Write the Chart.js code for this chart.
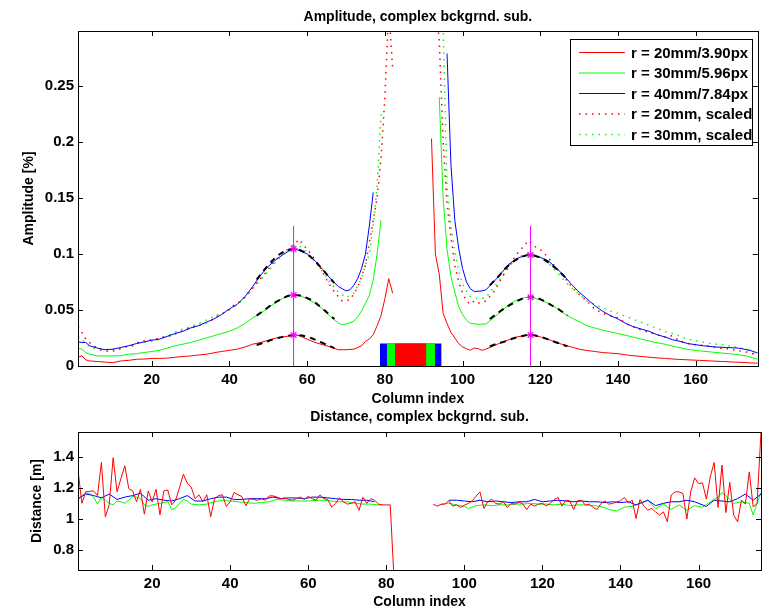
<!DOCTYPE html>
<html>
<head>
<meta charset="utf-8">
<script src="https://cdn.jsdelivr.net/npm/chart.js"></script>
<style>
    body { margin: 0; background: #fff; }
    .wrap { position: relative; width: 763px; height: 609px; }
    .wrap canvas { position: absolute; left: 0; top: 0; }
</style>
</head>
<body>
<div class="wrap">
    <canvas id="amp" width="763" height="609"></canvas>
    <canvas id="dist" width="763" height="609"></canvas>
</div>
<script>
const FONT = '"Liberation Sans", Arial, Helvetica, sans-serif';

// ---- axis ticks
const xTicks = [20, 40, 60, 80, 100, 120, 140, 160];
const ampTicks = [0, 0.05, 0.1, 0.15, 0.2, 0.25];
const distTicks = [0.8, 1, 1.2, 1.4];

// ---- amplitude, [column, value]; null = gap in the middle
const ampRed = [[1,0.008],[2,0.009],[3,0.0055],[4,0.0045],[6,0.004],[8,0.0035],[10,0.003],[12,0.0045],[14,0.005],[16,0.006],[18,0.0062],[20,0.0068],[22,0.0068],[24,0.007],[26,0.0078],[28,0.0085],[30,0.009],[32,0.0098],[34,0.0105],[36,0.0118],[38,0.013],[40,0.014],[42,0.015],[44,0.017],[46,0.0195],[48,0.021],[50,0.023],[52,0.025],[54,0.026],[56,0.0272],[57,0.0278],[58,0.027],[60,0.024],[62,0.021],[64,0.019],[66,0.017],[68,0.0145],[70,0.0145],[72,0.015],[74,0.018],[75,0.022],[76,0.024],[77,0.028],[78,0.036],[79,0.045],[80,0.06],[81,0.078],[82,0.065],[87,null],
    [92,0.203],[93,0.1],[94,0.082],[95,0.047],[96,0.038],[97,0.03],[98,0.025],[99,0.02],[100,0.017],[101,0.0155],[102,0.014],[103,0.016],[104,0.0155],[105,0.014],[106,0.015],[108,0.018],[110,0.021],[112,0.0235],[114,0.026],[116,0.027],[117,0.0278],[118,0.0275],[120,0.026],[122,0.024],[124,0.021],[126,0.019],[128,0.017],[130,0.015],[132,0.0138],[134,0.013],[136,0.012],[138,0.0115],[140,0.011],[143,0.0095],[146,0.0085],[149,0.0075],[152,0.0068],[155,0.006],[158,0.0055],[161,0.005],[164,0.0045],[167,0.004],[170,0.0035],[173,0.003],[176,0.0025]];
const ampGreen = [[1,0.016],[2,0.015],[3,0.012],[4,0.0105],[6,0.009],[8,0.009],[10,0.009],[12,0.0092],[14,0.0105],[16,0.011],[18,0.012],[20,0.013],[22,0.014],[24,0.016],[26,0.018],[28,0.0195],[30,0.021],[32,0.023],[34,0.025],[36,0.027],[38,0.029],[40,0.031],[42,0.034],[44,0.038],[46,0.043],[48,0.047],[50,0.052],[52,0.057],[54,0.061],[56,0.0633],[57,0.0635],[58,0.063],[60,0.06],[62,0.056],[64,0.051],[66,0.044],[68,0.0385],[69,0.037],[70,0.0375],[72,0.04],[73,0.044],[74,0.049],[75,0.056],[76,0.063],[77,0.077],[78,0.1],[79,0.13],[87,null],
    [94,0.24],[95,0.15],[96,0.104],[97,0.08],[98,0.066],[99,0.053],[100,0.046],[101,0.041],[102,0.038],[104,0.0372],[106,0.0375],[108,0.043],[110,0.049],[112,0.055],[114,0.059],[116,0.061],[117,0.0613],[118,0.061],[120,0.059],[122,0.056],[124,0.052],[126,0.047],[128,0.043],[130,0.0395],[132,0.036],[134,0.034],[136,0.032],[138,0.0305],[140,0.029],[143,0.0265],[146,0.024],[149,0.0215],[152,0.0195],[155,0.017],[158,0.0148],[161,0.0135],[164,0.0125],[167,0.0115],[170,0.0105],[173,0.009],[176,0.006]];
const ampBlue = [[1,0.0215],[2,0.021],[3,0.021],[4,0.018],[6,0.016],[8,0.0145],[10,0.015],[12,0.0165],[14,0.018],[16,0.02],[18,0.0215],[20,0.023],[22,0.024],[24,0.0265],[26,0.029],[28,0.031],[30,0.034],[32,0.036],[34,0.039],[36,0.042],[38,0.046],[40,0.051],[42,0.055],[44,0.062],[46,0.071],[48,0.081],[50,0.089],[52,0.095],[54,0.1],[56,0.104],[57,0.1045],[58,0.103],[60,0.1],[62,0.094],[64,0.086],[66,0.078],[68,0.071],[70,0.067],[71,0.068],[72,0.072],[73,0.078],[74,0.087],[75,0.1],[76,0.125],[77,0.155],[87,null],
    [96,0.279],[97,0.18],[98,0.13],[99,0.105],[100,0.087],[101,0.075],[102,0.069],[103,0.0665],[105,0.067],[106,0.068],[108,0.075],[110,0.083],[112,0.091],[114,0.096],[116,0.0985],[117,0.099],[118,0.099],[120,0.097],[122,0.094],[124,0.088],[126,0.081],[128,0.073],[130,0.066],[132,0.06],[134,0.054],[136,0.049],[138,0.045],[140,0.042],[142,0.038],[144,0.035],[146,0.033],[148,0.031],[150,0.028],[152,0.026],[154,0.0235],[156,0.022],[158,0.02],[160,0.019],[162,0.018],[165,0.017],[168,0.0165],[171,0.016],[174,0.014],[176,0.0115]];
const ampRedScaled = [[1,0.035],[2,0.03],[3,0.024],[5,0.018],[7,0.014],[9,0.013],[11,0.014],[13,0.017],[15,0.018],[17,0.022],[19,0.023],[21,0.024],[23,0.026],[25,0.027],[27,0.03],[29,0.033],[31,0.035],[33,0.037],[35,0.04],[37,0.045],[39,0.048],[41,0.054],[43,0.058],[45,0.066],[47,0.074],[49,0.082],[51,0.091],[53,0.099],[55,0.104],[57,0.11],[58,0.113],[59,0.108],[61,0.1],[63,0.09],[65,0.077],[67,0.066],[69,0.058],[71,0.059],[73,0.07],[75,0.09],[76,0.11],[77,0.13],[78,0.15],[79,0.185],[80,0.24],[81,0.32],[82,0.265],[87,null],
    [92,0.75],[93,0.33],[94,0.29],[95,0.2],[96,0.145],[97,0.115],[98,0.09],[99,0.075],[100,0.065],[101,0.058],[102,0.055],[103,0.058],[104,0.056],[105,0.057],[106,0.058],[108,0.066],[110,0.078],[112,0.09],[114,0.1],[116,0.108],[117,0.112],[118,0.108],[120,0.104],[122,0.097],[124,0.088],[126,0.08],[128,0.071],[130,0.064],[132,0.058],[134,0.051],[136,0.047],[138,0.045],[140,0.043],[142,0.038],[144,0.035],[146,0.032],[148,0.03],[150,0.028],[152,0.026],[154,0.027],[156,0.022],[158,0.02],[160,0.019],[163,0.018],[166,0.016],[169,0.015],[172,0.013],[174,0.012],[176,0.009]];
const ampGreenScaled = [[1,0.026],[2,0.024],[3,0.02],[4,0.017],[6,0.015],[8,0.015],[10,0.015],[12,0.016],[14,0.018],[16,0.02],[18,0.021],[20,0.022],[22,0.024],[24,0.027],[26,0.03],[28,0.033],[30,0.035],[32,0.038],[34,0.041],[36,0.044],[38,0.047],[40,0.05],[42,0.055],[44,0.061],[46,0.069],[48,0.077],[50,0.085],[52,0.093],[54,0.1],[56,0.105],[57,0.108],[58,0.107],[60,0.101],[62,0.093],[64,0.084],[66,0.074],[68,0.066],[70,0.061],[72,0.065],[74,0.078],[75,0.09],[76,0.1],[77,0.125],[78,0.16],[79,0.225],[87,null],
    [94,0.39],[95,0.3],[96,0.16],[97,0.125],[98,0.102],[99,0.085],[100,0.073],[101,0.067],[102,0.062],[104,0.06],[106,0.061],[108,0.07],[110,0.079],[112,0.089],[114,0.096],[116,0.1],[117,0.101],[118,0.1],[120,0.097],[122,0.092],[124,0.085],[126,0.077],[128,0.07],[130,0.064],[132,0.058],[134,0.055],[136,0.052],[138,0.049],[140,0.047],[143,0.043],[146,0.039],[149,0.035],[152,0.031],[155,0.028],[158,0.024],[161,0.022],[164,0.02],[167,0.019],[170,0.017],[173,0.015],[176,0.0095]];

// ---- peak fits (black dashed)
const fitBlueL = [[47,0.077],[49,0.086],[51,0.094],[53,0.1],[55,0.1035],[57,0.1045],[59,0.102],[61,0.097],[63,0.09],[65,0.082],[67,0.074]];
const fitGreenL = [[47,0.045],[49,0.05],[51,0.055],[53,0.059],[55,0.0625],[57,0.0634],[59,0.062],[61,0.059],[63,0.054],[65,0.048],[67,0.042]];
const fitRedL = [[47,0.0188],[49,0.021],[51,0.0235],[53,0.0255],[55,0.027],[57,0.0277],[59,0.027],[61,0.025],[63,0.022],[65,0.019],[67,0.016]];
const fitBlueR = [[107,0.072],[109,0.079],[111,0.087],[113,0.093],[115,0.097],[117,0.099],[119,0.098],[121,0.095],[123,0.09],[125,0.084],[127,0.077]];
const fitGreenR = [[107,0.042],[109,0.047],[111,0.052],[113,0.056],[115,0.0595],[117,0.0613],[119,0.061],[121,0.058],[123,0.054],[125,0.05],[127,0.045]];
const fitRedR = [[107,0.0175],[109,0.02],[111,0.022],[113,0.0245],[115,0.0265],[117,0.0277],[119,0.027],[121,0.025],[123,0.0225],[125,0.02],[127,0.0175]];

// ---- peak markers
const peakCols = [56.5, 117.5];
const peakRed = [0.0277, 0.0277];
const peakGreen = [0.0634, 0.0613];
const peakBlue = [0.1045, 0.099];
const markerTop = 0.125;

// ---- aperture bar (column from / to)
const barBlue = [78.7, 94.6];
const barGreen = [80.5, 92.9];
const barRed = [82.6, 90.7];
const barHeight = 0.02;

// ---- distance
const distRedLeft = [1.314,1.10,1.174,1.178,1.18,1.15,1.364,1.013,1.09,1.394, 1.174,1.26,1.342,1.196,1.18,1.11,1.19,1.03,1.18,1.11,
    1.19,1.026,1.18,1.186,1.09,1.12,1.2,1.288,1.23,1.205, 1.13,1.155,1.11,1.155,1.013,1.13,1.15,1.155,1.08,1.11,
    1.17,1.155,1.144,1.084,1.13,1.125,1.12,1.13,1.12,1.148, 1.148,1.14,1.13,1.135,1.125,1.12,1.13,1.14,1.125,1.145,
    1.13,1.12,1.155,1.13,1.125,1.075,1.1,1.135,1.11,1.095, 1.1,1.11,1.055,1.14,1.1,1.13,1.12,1.095,1.09,1.09, 1.09,0.6];
const distRedRight = [1.095,1.082,1.093,1.095,1.116,1.082,1.09,1.073,1.088,1.099, 1.116,1.146,1.174,1.067,1.11,1.127,1.099,1.095,1.11,1.073,
    1.099,1.095,1.108,1.095,1.06,1.095,1.082,1.095,1.099,1.084, 1.099,1.125,1.138,1.082,1.12,1.116,1.06,1.116,1.12,1.088,
    1.095,1.073,1.06,1.099,1.116,1.095,1.099,1.11,1.116,1.138, 1.103,1.12,1.002,1.125,1.082,1.056,1.067,1.045,1.024,1.045,
    0.981,1.153,1.174,1.174,1.163,0.998,1.174,1.264,1.228,1.232, 1.127,1.271,1.364,1.073,1.347,1.04,1.235,1.024,0.981,1.12,
    1.095,1.303,1.077,1.099,1.56];
const distBlue = [[1,1.13],[3,1.16],[5,1.15],[7,1.135],[9,1.16],[11,1.125],[13,1.14],[15,1.15],[17,1.165],[19,1.12],[21,1.13],[23,1.12],[25,1.115],[27,1.13],[29,1.15],[31,1.115],[33,1.115],[35,1.13],[37,1.14],[39,1.14],[41,1.125],[43,1.125],[45,1.13],[47,1.13],[49,1.13],[51,1.14],[53,1.13],[55,1.135],[57,1.135],[59,1.13],[61,1.14],[63,1.14],[65,1.135],[67,1.13],[69,1.125],[71,1.125],[73,1.12],[75,1.12],[77,1.11],[87,null],
    [96,1.12],[98,1.12],[100,1.115],[102,1.11],[104,1.12],[106,1.11],[108,1.115],[110,1.11],[112,1.105],[114,1.11],[116,1.11],[118,1.125],[120,1.11],[122,1.115],[124,1.12],[126,1.115],[128,1.11],[130,1.115],[132,1.11],[134,1.11],[136,1.105],[138,1.11],[140,1.105],[142,1.11],[144,1.09],[146,1.11],[147,1.12],[149,1.085],[151,1.1],[153,1.11],[155,1.11],[157,1.12],[159,1.11],[161,1.09],[162,1.08],[164,1.12],[166,1.115],[168,1.11],[170,1.13],[172,1.16],[174,1.12],[175,1.14],[176,1.16]];
const distGreen = [[1,1.12],[2,1.15],[3,1.165],[4,1.165],[5,1.14],[6,1.095],[7,1.14],[8,1.12],[9,1.1],[10,1.09],[11,1.115],[12,1.11],[13,1.1],[14,1.12],[15,1.145],[16,1.14],[17,1.13],[18,1.09],[19,1.08],[20,1.09],[21,1.095],[22,1.1],[23,1.105],[24,1.11],[25,1.06],[26,1.07],[27,1.1],[28,1.125],[29,1.115],[30,1.095],[32,1.09],[34,1.095],[36,1.11],[38,1.12],[40,1.115],[42,1.11],[44,1.105],[46,1.1],[48,1.105],[50,1.11],[52,1.125],[54,1.12],[56,1.115],[58,1.115],[60,1.115],[62,1.12],[64,1.12],[66,1.115],[68,1.11],[70,1.11],[72,1.1],[74,1.095],[76,1.095],[78,1.09],[79,1.09],[87,null],
    [94,1.095],[96,1.1],[98,1.09],[100,1.08],[101,1.066],[103,1.085],[105,1.09],[107,1.085],[109,1.09],[111,1.09],[113,1.095],[115,1.095],[117,1.1],[119,1.095],[121,1.095],[123,1.09],[125,1.095],[127,1.085],[129,1.09],[131,1.09],[133,1.085],[135,1.08],[137,1.06],[139,1.05],[141,1.075],[143,1.08],[145,1.1],[147,1.12],[149,1.065],[151,1.095],[153,1.06],[155,1.09],[157,1.055],[159,1.085],[161,1.075],[163,1.11],[165,1.14],[166,1.17],[167,1.15],[169,1.1],[171,1.11],[173,1.1],[174,1.025],[175,1.1],[176,1.17]];

const legendItems = [
    { label: "r = 20mm/3.90px", color: "#ff0000", dash: [] },
    { label: "r = 30mm/5.96px", color: "#00ff00", dash: [] },
    { label: "r = 40mm/7.84px", color: "#0000ff", dash: [] },
    { label: "r = 20mm, scaled", color: "#ff0000", dash: [1.5, 5] },
    { label: "r = 30mm, scaled", color: "#00ff00", dash: [1.5, 5] }
];

const pts = arr => arr.map(p => ({ x: p[0], y: p[1] }));
const runPts = (start, vals) => vals.map((v, i) => ({ x: start + i, y: v }));

function line(data, color, extra) {
    return Object.assign({
        data: data, borderColor: color, borderWidth: 1, pointRadius: 0,
        fill: false, tension: 0, spanGaps: false, clip: 0
    }, extra || {});
}
function bar(edges, color, order) {
    return {
        data: [{ x: edges[0], y: barHeight }, { x: edges[1], y: barHeight }],
        borderWidth: 0, backgroundColor: color, fill: "origin", pointRadius: 0, order: order
    };
}

// inward ticks, box, titles
function frame(opts) {
    return {
        id: "frame",
        afterDraw(chart) {
            const ctx = chart.ctx, a = chart.chartArea;
            const xs = chart.scales.x, ys = chart.scales.y;
            ctx.save();
            ctx.strokeStyle = "#000";
            ctx.lineWidth = 1;
            ctx.beginPath();
            xTicks.forEach(v => {
                const px = Math.round(xs.getPixelForValue(v)) + 0.5;
                ctx.moveTo(px, a.bottom); ctx.lineTo(px, a.bottom - 5);
                ctx.moveTo(px, a.top); ctx.lineTo(px, a.top + 5);
            });
            opts.yTicks.forEach(v => {
                const py = Math.round(ys.getPixelForValue(v)) + 0.5;
                ctx.moveTo(a.left, py); ctx.lineTo(a.left + 5, py);
                ctx.moveTo(a.right, py); ctx.lineTo(a.right - 5, py);
            });
            ctx.stroke();
            ctx.strokeRect(Math.round(a.left) + 0.5, Math.round(a.top) + 0.5,
                Math.round(a.right - a.left), Math.round(a.bottom - a.top));

            ctx.fillStyle = "#000";
            ctx.font = "bold 14px " + FONT;
            ctx.textAlign = "center";
            ctx.textBaseline = "alphabetic";
            const cx = (a.left + a.right) / 2;
            ctx.fillText(opts.title, cx, opts.titleY);
            ctx.fillText("Column index", cx, opts.xLabelY);
            ctx.translate(opts.yLabelX, (a.top + a.bottom) / 2);
            ctx.rotate(-Math.PI / 2);
            ctx.fillText(opts.yLabel, 0, 0);
            ctx.restore();

            if (opts.legend) drawLegend(ctx);
        }
    };
}

function drawLegend(ctx) {
    ctx.save();
    ctx.fillStyle = "#fff";
    ctx.fillRect(570, 39, 183, 107);
    ctx.strokeStyle = "#000";
    ctx.lineWidth = 1;
    ctx.strokeRect(570.5, 39.5, 182, 106);
    ctx.font = "bold 15px " + FONT;
    ctx.textAlign = "left";
    ctx.textBaseline = "middle";
    legendItems.forEach((it, i) => {
        const y = 52.5 + i * 20.5;
        ctx.strokeStyle = it.color;
        ctx.setLineDash(it.dash);
        ctx.lineWidth = it.dash.length ? 1.5 : 1;
        ctx.beginPath();
        ctx.moveTo(579, y); ctx.lineTo(625, y);
        ctx.stroke();
        ctx.fillStyle = "#000";
        ctx.fillText(it.label, 631, y + 1);
    });
    ctx.restore();
}

function scalesFor(yMin, yMax, yTicks, bottomH) {
    const tickFont = { family: FONT, size: 15, weight: "bold" };
    const fmt = v => String(Math.round(v * 1000) / 1000);
    return {
        x: {
            type: "linear", min: 1, max: 176,
            grid: { display: false, drawTicks: false }, border: { display: false },
            ticks: { font: tickFont, color: "#000", padding: 5, maxRotation: 0, autoSkip: false, callback: fmt },
            afterBuildTicks: s => { s.ticks = xTicks.map(v => ({ value: v })); },
            afterFit: s => { s.height = bottomH; }
        },
        y: {
            type: "linear", min: yMin, max: yMax,
            grid: { display: false, drawTicks: false }, border: { display: false },
            ticks: { font: tickFont, color: "#000", padding: 4, autoSkip: false, callback: fmt },
            afterBuildTicks: s => { s.ticks = yTicks.map(v => ({ value: v })); },
            afterFit: s => { s.width = 78; }
        }
    };
}

const dotted = { borderDash: [1.5, 5], borderWidth: 1.5 };
const dashed = { borderDash: [6, 5], borderWidth: 2, tension: 0.3 };

new Chart(document.getElementById("amp"), {
    type: "line",
    data: {
        datasets: [
            line(peakCols.map((c, i) => ({ x: c, y: peakBlue[i] })).concat(
                peakCols.map((c, i) => ({ x: c, y: peakGreen[i] })),
                peakCols.map((c, i) => ({ x: c, y: peakRed[i] }))),
                "#ff00ff", { showLine: false, pointStyle: "star", pointRadius: 4, pointBorderWidth: 1.2, pointBorderColor: "#ff00ff", order: 0 }),
            line([{ x: peakCols[0], y: 0 }, { x: peakCols[0], y: markerTop }], "#ff00ff", { order: 1 }),
            line([{ x: peakCols[1], y: 0 }, { x: peakCols[1], y: markerTop }], "#ff00ff", { order: 1 }),
            line(pts(fitBlueL), "#000", Object.assign({ order: 2 }, dashed)),
            line(pts(fitGreenL), "#000", Object.assign({ order: 2 }, dashed)),
            line(pts(fitRedL), "#000", Object.assign({ order: 2 }, dashed)),
            line(pts(fitBlueR), "#000", Object.assign({ order: 2 }, dashed)),
            line(pts(fitGreenR), "#000", Object.assign({ order: 2 }, dashed)),
            line(pts(fitRedR), "#000", Object.assign({ order: 2 }, dashed)),
            bar(barRed, "#ff0000", 3),
            bar(barGreen, "#00ff00", 4),
            bar(barBlue, "#0000ff", 5),
            line(pts(ampRed), "#ff0000", { order: 6 }),
            line(pts(ampGreen), "#00ff00", { order: 6 }),
            line(pts(ampBlue), "#0000ff", { order: 6 }),
            line(pts(ampRedScaled), "#ff0000", Object.assign({ order: 7 }, dotted)),
            line(pts(ampGreenScaled), "#00ff00", Object.assign({ order: 7 }, dotted))
        ]
    },
    options: {
        responsive: false, animation: false, devicePixelRatio: 1,
        layout: { padding: { top: 31, right: 2, left: 0, bottom: 0 } },
        plugins: { legend: { display: false }, tooltip: { enabled: false } },
        scales: scalesFor(0, 0.299, ampTicks, 243)
    },
    plugins: [frame({ title: "Amplitude, complex bckgrnd. sub.", titleY: 21, xLabelY: 403,
        yLabel: "Amplitude [%]", yLabelX: 33, yTicks: ampTicks, legend: true })]
});

new Chart(document.getElementById("dist"), {
    type: "line",
    data: {
        datasets: [
            line(runPts(1, distRedLeft).concat([{ x: 87, y: null }], runPts(92, distRedRight)), "#ff0000", { order: 1 }),
            line(pts(distBlue), "#0000ff", { order: 2 }),
            line(pts(distGreen), "#00ff00", { order: 3 })
        ]
    },
    options: {
        responsive: false, animation: false, devicePixelRatio: 1,
        layout: { padding: { top: 432, right: 2, left: 0, bottom: 0 } },
        plugins: { legend: { display: false }, tooltip: { enabled: false } },
        scales: scalesFor(0.67, 1.56, distTicks, 39)
    },
    plugins: [frame({ title: "Distance, complex bckgrnd. sub.", titleY: 421, xLabelY: 606,
        yLabel: "Distance [m]", yLabelX: 41, yTicks: distTicks, legend: false })]
});
</script>
</body>
</html>
